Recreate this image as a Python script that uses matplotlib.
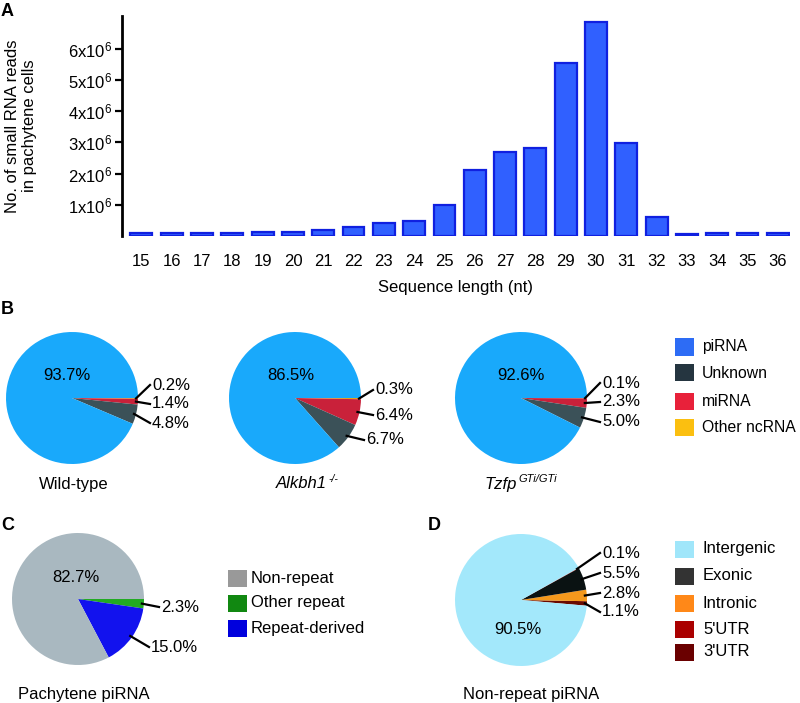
import numpy as np
import matplotlib
matplotlib.use("Agg")
import matplotlib.pyplot as plt
from matplotlib.patches import Rectangle

plt.rcParams["font.family"] = ["Liberation Sans", "DejaVu Sans"]
plt.rcParams["mathtext.fontset"] = "custom"
plt.rcParams["mathtext.rm"] = "Liberation Sans"
plt.rcParams["mathtext.it"] = "Liberation Sans:italic"

# ---- donnees ----
longueurs = list(range(15, 37))
lectures = [0.10, 0.10, 0.10, 0.10, 0.12, 0.12, 0.18, 0.29, 0.42, 0.48, 1.00,
            2.12, 2.69, 2.82, 5.54, 6.86, 2.98, 0.60, 0.08, 0.10, 0.10, 0.10]
lectures = [v * 1e6 for v in lectures]

cat_b = ["piRNA", "Unknown", "miRNA", "Other ncRNA"]
wildtype = [93.7, 4.8, 1.4, 0.2]
alkbh1 = [86.5, 6.7, 6.4, 0.3]
tzfp = [92.6, 5.0, 2.3, 0.1]

cat_c = ["Non-repeat", "Other repeat", "Repeat-derived"]
pachytene = [82.7, 2.3, 15.0]

cat_d = ["Intergenic", "Exonic", "Intronic", "5'UTR", "3'UTR"]
nonrepeat = [90.5, 5.5, 2.8, 0.1, 1.1]

# couleurs
coul_pie_b = ["#19a9fb", "#3b5158", "#c9213a", "#e3a21a"]
coul_leg_b = ["#2d6cf5", "#253540", "#e8213a", "#fbbf10"]
coul_pie_c = ["#a9b8c0", "#22aa22", "#1212ee"]
coul_leg_c = ["#999999", "#118811", "#0000dd"]
coul_pie_d = ["#a3e8fb", "#0a1212", "#f4981c", "#aa0000", "#6a0a00"]
coul_leg_d = ["#a0e6fa", "#333333", "#ff8818", "#aa0000", "#6a0000"]

W, H = 800, 703
fig = plt.figure(figsize=(W / 100, H / 100), dpi=100)
FS = 12


def fx(x):
    return x / W


def fy(y):
    return 1 - y / H


# ---- A : histogramme ----
ax = fig.add_axes([fx(122), fy(236), (790 - 122) / W, (236 - 16) / H])
ax.bar(longueurs, lectures, width=0.72, color="#3060ff", edgecolor="#1020e0", linewidth=1.6)
ax.set_xlim(14.36, 36.4)
ax.set_ylim(0, 7.05e6)
ax.set_yticks([i * 1e6 for i in range(1, 7)])
ax.set_yticklabels([f"{i}x10$^{{6}}$" for i in range(1, 7)], fontsize=FS)
ax.set_xticks(longueurs)
ax.set_xticklabels([str(v) for v in longueurs], fontsize=FS)
ax.tick_params(axis="x", length=0, pad=13)
ax.tick_params(axis="y", length=5, width=1.6, pad=2)
for s in ["top", "right", "bottom"]:
    ax.spines[s].set_visible(False)
ax.spines["left"].set_linewidth(2)
ax.set_xlabel("Sequence length (nt)", fontsize=FS, labelpad=8)
ax.set_ylabel("No. of small RNA reads\nin pachytene cells", fontsize=FS)
ax.yaxis.set_label_coords((37 - 122) / 668, 0.5)
fig.text(fx(1), fy(11), "A", fontsize=13, fontweight="bold", va="center")


def camembert(cx, cy, r, valeurs, couleurs, ordre, depart, horaire, grand, petits):
    # ordre: indices des categories dans le sens du trace
    a = fig.add_axes([fx(cx - r), fy(cy + r), 2 * r / W, 2 * r / H])
    a.axis("off")
    wedges, _ = a.pie([valeurs[i] for i in ordre], colors=[couleurs[i] for i in ordre],
                      startangle=depart, counterclock=not horaire,
                      radius=1, wedgeprops=dict(linewidth=0))
    a.set_xlim(-1, 1)
    a.set_ylim(-1, 1)
    gi, gx, gy = grand
    a.text((gx - cx) / r, (cy - gy) / r, f"{valeurs[gi]:.1f}%", fontsize=FS,
           ha="center", va="center")
    for idx, tx, ty in petits:
        w = wedges[ordre.index(idx)]
        ang = np.deg2rad((w.theta1 + w.theta2) / 2)
        x0, y0 = 0.97 * np.cos(ang), 0.97 * np.sin(ang)
        x1, y1 = (tx - 2 - cx) / r, (cy - ty) / r
        a.plot([x0, x1], [y0, y1], color="black", lw=1.6, clip_on=False)
        a.text((tx - cx) / r, (cy - ty) / r, f"{valeurs[idx]:.1f}%", fontsize=FS,
               ha="left", va="center")
    return a


def legende(x, centres, cats, couleurs, taille, ecart):
    for c, col, y in zip(cats, couleurs, centres):
        fig.add_artist(Rectangle((fx(x), fy(y + 8.5)), 19 / W, 17 / H, transform=fig.transFigure,
                                 facecolor=col, edgecolor="none"))
        fig.text(fx(x + ecart), fy(y), c, fontsize=taille, va="center", ha="left")


# ---- B ----
fig.text(fx(1), fy(310), "B", fontsize=13, fontweight="bold", va="center")
ordre_b = [3, 2, 1, 0]
camembert(72, 398, 66, wildtype, coul_pie_b, ordre_b, 0, True, (0, 67, 375),
          [(3, 152, 385), (2, 152, 404), (1, 152, 423)])
camembert(295, 398, 66, alkbh1, coul_pie_b, ordre_b, 0, True, (0, 291, 375),
          [(3, 375, 390), (2, 375, 415), (1, 366, 440)])
camembert(521, 398, 66, tzfp, coul_pie_b, ordre_b, 0, True, (0, 521, 375),
          [(3, 602, 383), (2, 602, 402), (1, 602, 422)])
fig.text(fx(74), fy(484), "Wild-type", fontsize=FS, ha="center", va="center")
fig.text(fx(327), fy(484), "Alkbh1", fontsize=FS, style="italic", ha="right", va="center")
fig.text(fx(328), fy(479), "-/-", fontsize=7.5, style="italic", ha="left", va="center")
fig.text(fx(517), fy(484), "Tzfp", fontsize=FS, style="italic", ha="right", va="center")
fig.text(fx(518), fy(479), "GTi/GTi", fontsize=8, style="italic", ha="left", va="center")
legende(675, [347, 373, 401, 427], cat_b, coul_leg_b, 11.3, 27)

# ---- C ----
fig.text(fx(1), fy(525), "C", fontsize=13, fontweight="bold", va="center")
camembert(78, 599, 66, pachytene, coul_pie_c, [1, 2, 0], 0, True, (0, 76, 578),
          [(1, 161, 607), (2, 151, 647)])
fig.text(fx(18), fy(695), "Pachytene piRNA", fontsize=FS, ha="left", va="center")
legende(228, [578, 603, 628], cat_c, coul_leg_c, 12, 23)

# ---- D ----
fig.text(fx(428), fy(525), "D", fontsize=13, fontweight="bold", va="center")
camembert(521, 600, 66, nonrepeat, coul_pie_d, [4, 2, 1, 3, 0], -5, False, (0, 518, 630),
          [(3, 602, 553), (1, 602, 573), (2, 602, 593), (4, 602, 612)])
fig.text(fx(531), fy(695), "Non-repeat piRNA", fontsize=FS, ha="center", va="center")
legende(675, [549, 576, 603, 629, 652], cat_d, coul_leg_d, 12, 28)

fig.savefig("out.png", dpi=100)
